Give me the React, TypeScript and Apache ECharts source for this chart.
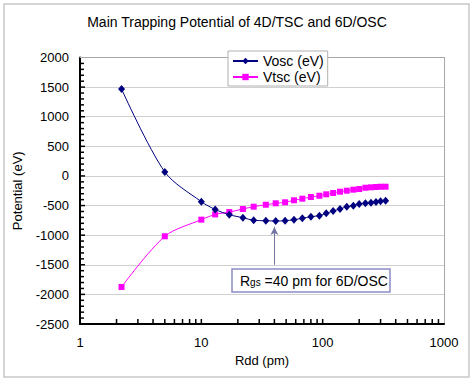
import React, { useEffect, useRef } from "react";
import * as echarts from "echarts";

const rdd = [2.2, 5, 10, 13, 17, 22, 27, 34, 41, 49, 58, 68, 80, 94, 107, 122, 139, 158, 179, 200, 225, 250, 275, 300, 330];
const vosc = [1468, 67, -435, -565, -655, -705, -749, -756, -761, -756, -739, -715, -688, -671, -631, -592, -558, -519, -503, -474, -462, -452, -440, -428, -418];
const vtsc = [-1875, -1019, -738, -650, -610, -558, -519, -486, -462, -445, -411, -384, -356, -334, -310, -288, -266, -249, -232, -221, -199, -192, -187, -182, -182];
const xTickValues = [2, 3, 4, 5, 6, 7, 8, 9, 10, 20, 30, 40, 50, 60, 70, 80, 90, 100, 200, 300, 400, 500, 600, 700, 800, 900];
const yMajorTicks = [-2000, -1500, -1000, -500, 0, 500, 1000, 1500];
const yMinorTicks = [
  -2400, -2300, -2200, -2100, -1900, -1800, -1700, -1600, -1400, -1300, -1200, -1100, -900, -800, -700, -600,
  -400, -300, -200, -100, 100, 200, 300, 400, 600, 700, 800, 900, 1100, 1200, 1300, 1400, 1600, 1700, 1800, 1900,
];
const X_MIN = 1;
const Y_MIN = -2500;
const arrowX = 40;
const arrowFrom = -1500;
const arrowTo = -860;

const FONT = "'Liberation Sans', Arial, sans-serif";

export default function App() {
  const ref = useRef<HTMLDivElement>(null);
  useEffect(() => {
    if (!ref.current) return;
    const chart = echarts.init(ref.current, null, { renderer: "svg" });
    const pairs = (ys: number[]) => rdd.map((x, i) => [x, ys[i]]);
    const borderAxis = {
      show: true,
      axisLine: { show: true, onZero: false, lineStyle: { color: "#a8a8a8", width: 1 } },
      axisTick: { show: false },
      axisLabel: { show: false },
      splitLine: { show: false },
    };
    const tickData = [
      ...xTickValues.map((v) => [v, Y_MIN, 0, 5]),
      ...yMajorTicks.map((v) => [X_MIN, v, 1, 5]),
      ...yMinorTicks.map((v) => [X_MIN, v, 1, 4]),
    ];
    chart.setOption({
      animation: false,
      backgroundColor: "#fff",
      textStyle: { fontFamily: FONT },
      title: {
        text: "Main Trapping Potential of 4D/TSC and 6D/OSC",
        left: "center",
        top: 15,
        padding: 0,
        textStyle: { fontSize: 14, fontWeight: "normal", color: "#000", fontFamily: FONT },
      },
      legend: {
        orient: "vertical",
        left: 228,
        top: 51,
        padding: [3, 4, 2, 4],
        itemGap: 2,
        itemWidth: 25,
        itemHeight: 8,
        backgroundColor: "#fff",
        borderColor: "#b0b0b0",
        borderWidth: 1,
        textStyle: { fontSize: 14, color: "#000", fontFamily: FONT },
        data: ["Vosc (eV)", "Vtsc (eV)"],
        z: 20,
      },
      grid: {
        left: 80,
        right: 30,
        top: 57.5,
        bottom: 57,
      },
      xAxis: [
        {
          type: "log",
          logBase: 10,
          min: 1,
          max: 1000,
          name: "Rdd (pm)",
          nameLocation: "middle",
          nameGap: 25,
          nameTextStyle: { fontSize: 13, color: "#000", fontFamily: FONT },
          axisLine: { show: true, onZero: false, lineStyle: { color: "#000", width: 2 } },
          axisTick: { show: false },
          axisLabel: {
            show: true,
            margin: 12,
            fontSize: 13,
            color: "#000",
            fontFamily: FONT,
            formatter: (v: number) => String(v),
          },
          splitLine: { show: false },
        },
        { type: "log", logBase: 10, min: 1, max: 1000, position: "top", ...borderAxis },
      ],
      yAxis: [
        {
          type: "value",
          min: -2500,
          max: 2000,
          interval: 500,
          name: "Potential (eV)",
          nameLocation: "middle",
          nameGap: 56,
          nameTextStyle: { fontSize: 13, color: "#000", fontFamily: FONT },
          axisLine: { show: true, onZero: false, lineStyle: { color: "#000", width: 2 } },
          axisTick: { show: false },
          axisLabel: {
            margin: 11,
            fontSize: 13,
            color: "#000",
            fontFamily: FONT,
            formatter: (v: number) => String(v),
          },
          splitLine: { show: true, lineStyle: { color: "#d0d0d0", width: 1 } },
        },
        { type: "value", min: -2500, max: 2000, interval: 500, position: "right", ...borderAxis },
      ],
      series: [
        {
          name: "Vosc (eV)",
          type: "line",
          data: pairs(vosc),
          smooth: 0.3,
          symbol: "diamond",
          symbolSize: [7, 8],
          lineStyle: { color: "#000080", width: 1 },
          itemStyle: { color: "#000080" },
          z: 3,
          markLine: {
            silent: true,
            symbol: ["none", "arrow"],
            symbolSize: [6, 8],
            label: { show: false },
            lineStyle: { color: "#7474a4", width: 1, type: "solid" },
            data: [[{ coord: [arrowX, arrowFrom] }, { coord: [arrowX, arrowTo] }]],
          },
        },
        {
          name: "Vtsc (eV)",
          type: "line",
          data: pairs(vtsc),
          smooth: 0.3,
          symbol: "rect",
          symbolSize: 6,
          lineStyle: { color: "#ff00ff", width: 1 },
          itemStyle: { color: "#ff00ff" },
          z: 2,
        },
        {
          name: "ticks",
          type: "custom",
          silent: true,
          clip: false,
          z: 6,
          encode: { x: 0, y: 1 },
          data: tickData,
          renderItem: (params: any, api: any) => {
            const p = api.coord([api.value(0), api.value(1)]);
            const dir = api.value(2);
            const len = api.value(3);
            const shape =
              dir === 0
                ? { x1: p[0], y1: p[1], x2: p[0], y2: p[1] - len }
                : { x1: p[0], y1: p[1], x2: p[0] + len, y2: p[1] };
            return { type: "line", shape, style: { stroke: "#000", lineWidth: 1.5 } };
          },
        },
      ],
      graphic: [
        {
          type: "rect",
          shape: { x: 4, y: 4, width: 465, height: 373 },
          style: { fill: "transparent", stroke: "#c8c8c8", lineWidth: 1.5 },
          silent: true,
          z: 0,
        },
        {
          type: "rect",
          shape: { x: 232, y: 269, width: 158, height: 23 },
          style: { fill: "#fff", stroke: "#8c8cc8", lineWidth: 1.5 },
          z: 10,
        },
        {
          type: "text",
          x: 240,
          y: 280.5,
          z: 11,
          style: {
            text: "{a|R}{b|gs}{a| =40 pm for 6D/OSC}",
            verticalAlign: "middle",
            rich: {
              a: { fontSize: 14, fontFamily: FONT, fill: "#000", verticalAlign: "bottom" },
              b: { fontSize: 10, fontFamily: FONT, fill: "#000", verticalAlign: "bottom" },
            },
          },
        },
      ],
    });
    return () => chart.dispose();
  }, []);
  return (
    <div
      ref={ref}
      style={{ position: "absolute", left: 0, top: 0, width: 474, height: 381, background: "#fff" }}
    />
  );
}
